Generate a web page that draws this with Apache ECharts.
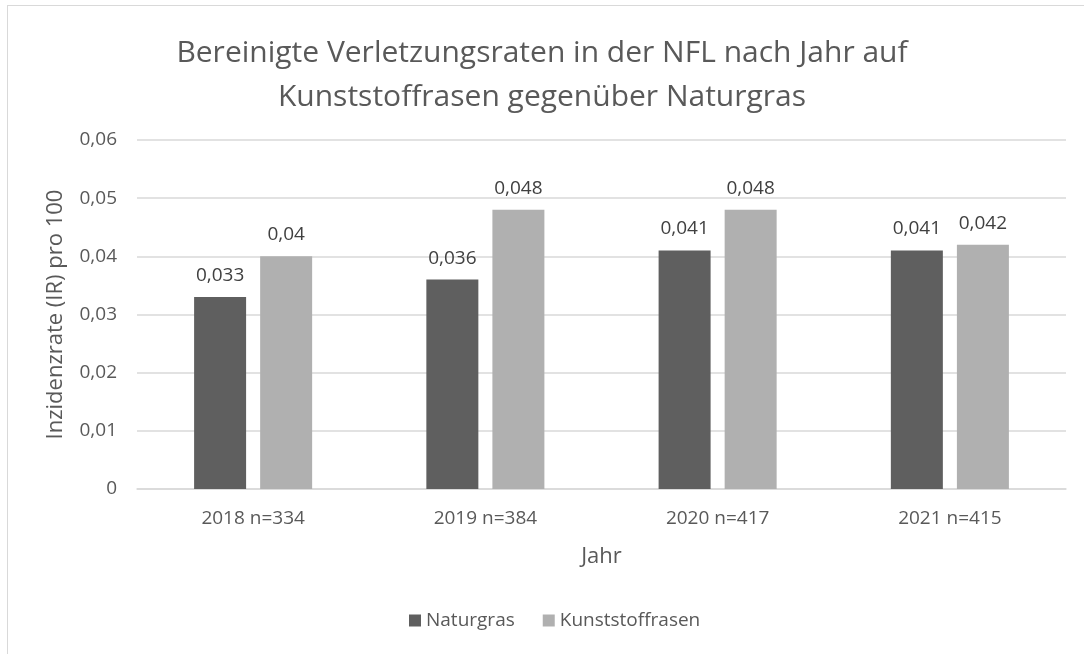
<!DOCTYPE html>
<html>
<head>
<meta charset="utf-8" />
<title>Verletzungsraten NFL</title>
<script type="text/javascript" src="https://cdn.jsdelivr.net/npm/echarts@6/dist/echarts.min.js"></script>
<style>
  html, body { margin: 0; padding: 0; background: #fff; }
  #frame { position: absolute; left: 7px; top: 5px; width: 1090px; height: 660px; border: 1px solid #d9d9d9; box-sizing: border-box; }
  #main { position: absolute; left: 0; top: 0; width: 1084px; height: 654px; }
</style>
</head>
<body>
<div id="frame"></div>
<div id="main"></div>
<script type="text/javascript">
  // Daten
  var jahre = ['2018 n=334', '2019 n=384', '2020 n=417', '2021 n=415'];
  var naturgras = [0.033, 0.036, 0.041, 0.041];
  var kunststoffrasen = [0.04, 0.048, 0.048, 0.042];
  var serienNamen = ['Naturgras', 'Kunststoffrasen'];

  var schrift = '"Open Sans", "Liberation Sans", sans-serif';
  var textFarbe = '#595959';

  function komma(v) {
    return String(v).replace('.', ',');
  }

  var myChart = echarts.init(document.getElementById('main'));
  myChart.setOption({
    animation: false,
    textStyle: { fontFamily: schrift },
    title: {
      text: 'Bereinigte Verletzungsraten in der NFL nach Jahr auf\nKunststoffrasen gegenüber Naturgras',
      left: 'center',
      top: 26,
      textStyle: { fontFamily: schrift, fontSize: 30, fontWeight: 'normal', color: textFarbe, lineHeight: 44 }
    },
    legend: {
      data: serienNamen,
      bottom: 19,
      left: 404,
      itemWidth: 12,
      itemHeight: 12,
      itemGap: 28,
      icon: 'rect',
      textStyle: { fontFamily: schrift, fontSize: 19, color: textFarbe }
    },
    grid: { left: 137, right: 18, top: 140, bottom: 165, containLabel: false },
    xAxis: {
      type: 'category',
      data: jahre,
      name: 'Jahr',
      nameLocation: 'middle',
      nameGap: 57,
      nameTextStyle: { fontFamily: schrift, fontSize: 22, color: textFarbe },
      axisLine: { lineStyle: { color: '#d9d9d9', width: 1.5 } },
      axisTick: { show: false },
      axisLabel: { fontFamily: schrift, fontSize: 19, color: textFarbe, margin: 20 }
    },
    yAxis: {
      type: 'value',
      min: 0,
      max: 0.06,
      interval: 0.01,
      name: 'Inzidenzrate (IR) pro 100',
      nameLocation: 'middle',
      nameGap: 70,
      nameTextStyle: { fontFamily: schrift, fontSize: 22, color: textFarbe },
      axisLine: { show: false },
      axisTick: { show: false },
      splitLine: { lineStyle: { color: '#d9d9d9', width: 1.5 } },
      axisLabel: {
        fontFamily: schrift, fontSize: 19, color: textFarbe, margin: 20,
        formatter: function (v) { return komma(+v.toFixed(2)); }
      }
    },
    series: [
      {
        name: serienNamen[0],
        type: 'bar',
        data: naturgras,
        barWidth: 52,
        barGap: '27%',
        itemStyle: { color: '#5f5f5f' },
        label: {
          show: true, position: 'top', distance: 12,
          fontFamily: schrift, fontSize: 19, color: '#404040',
          formatter: function (p) { return komma(p.value); }
        }
      },
      {
        name: serienNamen[1],
        type: 'bar',
        data: kunststoffrasen,
        barWidth: 52,
        itemStyle: { color: '#b0b0b0' },
        label: {
          show: true, position: 'top', distance: 12,
          fontFamily: schrift, fontSize: 19, color: '#404040',
          formatter: function (p) { return komma(p.value); }
        }
      }
    ]
  });
</script>
</body>
</html>
